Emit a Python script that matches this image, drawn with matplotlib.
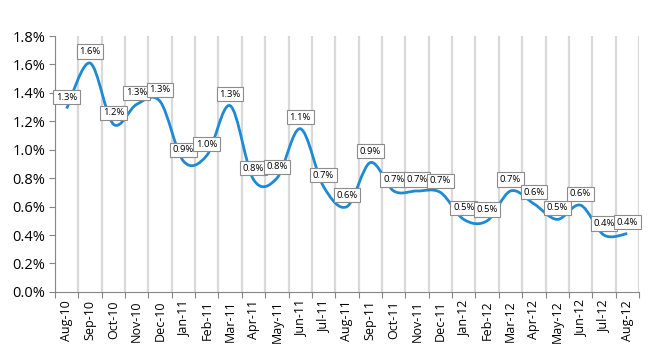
import numpy as np
import matplotlib as mpl
mpl.use('Agg')
import matplotlib.pyplot as plt
from matplotlib.path import Path
from matplotlib.patches import PathPatch
from matplotlib.ticker import FuncFormatter, FixedLocator

# monthly values in percent
months = ['Aug-10', 'Sep-10', 'Oct-10', 'Nov-10', 'Dec-10', 'Jan-11', 'Feb-11',
          'Mar-11', 'Apr-11', 'May-11', 'Jun-11', 'Jul-11', 'Aug-11', 'Sep-11',
          'Oct-11', 'Nov-11', 'Dec-11', 'Jan-12', 'Feb-12', 'Mar-12', 'Apr-12',
          'May-12', 'Jun-12', 'Jul-12', 'Aug-12']
values = [1.29, 1.61, 1.18, 1.32, 1.34, 0.92, 0.96,
          1.31, 0.79, 0.80, 1.148, 0.74, 0.60, 0.91,
          0.71, 0.71, 0.70, 0.51, 0.50, 0.71, 0.62,
          0.51, 0.61, 0.40, 0.41]

plt.rcParams['font.family'] = ['Open Sans', 'DejaVu Sans']

fig = plt.figure(figsize=(6.5, 3.5), dpi=100)
ax = fig.add_axes([0.0846, 0.166, 0.8984, 0.731])

x = np.arange(len(values))
y = np.array(values)

# smoothed line like excel (catmull-rom -> bezier)
pts = np.column_stack([x, y])
verts = [pts[0]]
codes = [Path.MOVETO]
n = len(pts)
for i in range(n - 1):
    p0 = pts[max(i - 1, 0)]
    p1 = pts[i]
    p2 = pts[i + 1]
    p3 = pts[min(i + 2, n - 1)]
    c1 = p1 + (p2 - p0) / 6.0
    c2 = p2 - (p3 - p1) / 6.0
    verts += [c1, c2, p2]
    codes += [Path.CURVE4] * 3
ax.add_patch(PathPatch(Path(verts, codes), facecolor='none',
                       edgecolor='#1f8ad3', lw=2.0, zorder=3, capstyle='butt'))

# data labels
for xi, yi in zip(x, y):
    ax.annotate('%.1f%%' % yi, (xi, yi), xytext=(0, 5), textcoords='offset points',
                ha='center', va='bottom', fontsize=6.8, zorder=5,
                bbox=dict(boxstyle='square,pad=0.28', fc='white', ec='#8c8c8c', lw=0.8))

ax.set_xlim(-0.5, len(values) - 0.5)
ax.set_ylim(0, 1.8)
ax.set_yticks(np.arange(0, 1.81, 0.2))
ax.yaxis.set_major_formatter(FuncFormatter(lambda v, p: '%.1f%%' % v))

ax.set_xticks(x)
ax.set_xticklabels(months, rotation=90)
ax.xaxis.set_minor_locator(FixedLocator(np.arange(-0.5, len(values), 1.0)))
ax.tick_params(axis='x', which='major', length=0, pad=6, labelsize=9)
ax.tick_params(axis='x', which='minor', length=4, color='#868686', width=0.8)
ax.tick_params(axis='y', length=4, color='#868686', width=0.8, labelsize=10.5, pad=3)
ax.grid(axis='x', which='minor', color='#d9d9d9', lw=1.6)
ax.set_axisbelow(True)

for s in ['top', 'right']:
    ax.spines[s].set_visible(False)
for s in ['left', 'bottom']:
    ax.spines[s].set_color('#868686')
    ax.spines[s].set_linewidth(0.8)

plt.savefig('out.png', dpi=100)
